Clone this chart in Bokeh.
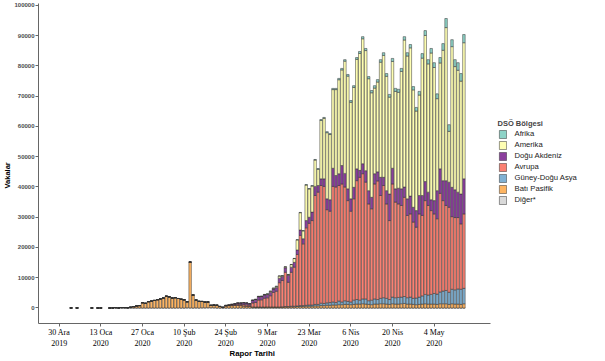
import pandas as pd
from bokeh.plotting import figure
from bokeh.models import (ColumnDataSource, Range1d, FixedTicker, Legend, LegendItem,
                          Title, BasicTickFormatter)
from bokeh.embed import file_html
from bokeh.resources import INLINE

# ---------------- data (daily cases by report date) ----------------
rapor_tarihi = (["2020-01-03", "2020-01-05", "2020-01-10", "2020-01-12", "2020-01-13"]
                + [d.strftime("%Y-%m-%d") for d in pd.date_range("2020-01-16", "2020-05-14")])

diger = ([0] * 5 + [0] * 21
         + [10, 10, 41, 3, 6, 65, 39, 0, 44, 0, 67, 70, 99, 88, 79, 13]
         + [0] * 83)

bati_pasifik = ([17, 15, 7, 1, 1]
                + [4, 17, 136, 20, 151, 140, 97, 260, 450, 680, 800]
                + [1750, 1550, 2100, 2300, 2500, 2750, 3000, 3300, 3900, 3700, 3300, 3400, 3100, 2900,
                   2700, 2000, 15150]
                + [4300, 2600, 2200, 2100, 1900, 1900, 800, 900, 900, 500, 200, 700, 800, 800, 900, 900,
                   800, 700, 600, 500]
                + [350, 300, 320, 280, 300, 330, 310, 300, 290, 300]
                + [300, 350, 350, 400, 400, 500, 500, 550, 600, 600,
                   600, 700, 700, 800, 800, 900, 900, 1000, 1000, 1100,
                   1100, 1200, 1200, 1100, 1200, 1300, 1300, 1400, 1300, 1200,
                   1100, 1300, 1300, 1400, 1400, 1300, 1200, 1400, 1300, 1300,
                   1400, 1500, 1300, 1300, 1200, 1100, 1200, 1300, 1400, 1300,
                   1300, 1300, 1200, 1400, 1400, 1400, 1200, 1400, 1300, 1300,
                   1200, 1400])

guney_dogu_asya = ([0] * 53
                   + [5, 10, 10, 20, 20, 30, 30, 40, 50, 60]
                   + [100, 150, 150, 200, 200, 200, 300, 250, 300, 400,
                      400, 500, 500, 800, 700, 800, 900, 1000, 800, 1200,
                      900, 1200, 1000, 900, 1400, 1500, 1300, 1600, 1700, 1200,
                      1500, 1700, 1500, 1800, 2000, 1900, 1600, 2200, 2100, 2200,
                      2200, 2300, 2100, 2300, 2000, 2200, 2400, 2700, 3100, 3000,
                      3200, 3500, 3400, 3900, 4200, 4400, 4000, 4800, 4700, 5000,
                      5000, 5100])

avrupa = ([0] * 33
          + [0, 0, 0, 0, 0, 0, 0, 0, 10, 20, 40, 60, 100, 200, 200, 350, 350, 450, 450, 400]
          + [1300, 1500, 2300, 2400, 2900, 3000, 3700, 4800, 5200, 8000]
          + [8700, 11300, 8000, 11200, 12900, 17000, 23200, 20400, 25600, 27000,
             27900, 36000, 37100, 38900, 38700, 30800, 30200, 38200, 38200, 38200,
             39000, 37600, 33300, 30000, 33500, 39300, 40600, 41400, 38600, 32000,
             30200, 38000, 39200, 34000, 37100, 31200, 26100, 37400, 31600, 30900,
             30300, 32800, 27200, 27500, 25200, 23400, 27500, 26600, 31000, 29600,
             27700, 26300, 24900, 32600, 29900, 28100, 28100, 24000, 23900, 23600,
             21600, 24600])

dogu_akdeniz = ([0] * 44
                + [100, 100, 200, 300, 400, 500, 600, 600, 500]
                + [900, 1000, 1100, 1100, 1100, 1100, 1200, 1100, 1200, 1500]
                + [1300, 1500, 2300, 1700, 1600, 1500, 1800, 1700, 2400, 2000,
                   2800, 3000, 2200, 2200, 2500, 3600, 3800, 6000, 3800, 3900,
                   6100, 4500, 3900, 4100, 3800, 3900, 2300, 3300, 3800, 4400,
                   3800, 3400, 3000, 6000, 2700, 4400, 8800, 5200, 4400, 5200,
                   5500, 3400, 5500, 5900, 4900, 5500, 6100, 6600, 6300, 4400,
                   3600, 4400, 9300, 8100, 6600, 8200, 8300, 9700, 9200, 8400,
                   9900, 11600])

amerika = ([0] * 44
           + [5, 10, 10, 15, 20, 25, 30, 40, 50]
           + [20, 50, 100, 80, 150, 200, 300, 300, 400, 700]
           + [300, 300, 250, 850, 1250, 3300, 5700, 2600, 11750, 9350,
              8600, 8700, 5350, 19300, 20000, 21850, 21550, 26000, 28400, 31050,
              31600, 37100, 37250, 31900, 33000, 36200, 38650, 41300, 39700, 37000,
              34550, 28300, 29700, 38050, 40300, 37800, 32000, 35300, 32200, 31700,
              38800, 48600, 47200, 49000, 38800, 32900, 33200, 45400, 48300, 42400,
              48500, 44000, 30400, 35000, 43100, 50600, 16800, 46500, 40700, 40300,
              37300, 45000])

afrika = ([0] * 53
          + [2, 5, 10, 10, 20, 20, 30, 30, 40, 50]
          + [20, 50, 50, 50, 50, 100, 100, 100, 150, 150,
             200, 200, 250, 300, 300, 350, 350, 400, 400, 450,
             500, 500, 550, 600, 600, 600, 650, 700, 700, 700,
             750, 800, 800, 850, 900, 900, 900, 1000, 1000, 1000,
             1000, 1100, 1100, 1100, 1100, 1200, 1200, 1500, 1600, 1400,
             1500, 1600, 1600, 1800, 2200, 3000, 2200, 2300, 2300, 2500,
             2500, 2700])

bolge_etiketleri = ["Diğer*", "Batı Pasifik", "Güney-Doğu Asya", "Avrupa", "Doğu Akdeniz", "Amerika", "Afrika"]
bolge_anahtarlari = ["diger", "bati_pasifik", "guney_dogu_asya", "avrupa", "dogu_akdeniz", "amerika", "afrika"]
bolge_renkleri = ["#D9D9D9", "#FDB462", "#80B1D3", "#FB8072", "#8C3F9E", "#FFFFB3", "#8DD3C7"]

tick_tarihleri = ["2019-12-30", "2020-01-13", "2020-01-27", "2020-02-10", "2020-02-24",
                  "2020-03-09", "2020-03-23", "2020-04-06", "2020-04-20", "2020-05-04"]
tick_etiketleri = ["30 Ara\n2019", "13 Oca\n2020", "27 Oca\n2020", "10 Şub\n2020", "24 Şub\n2020",
                   "9 Mar\n2020", "23 Mar\n2020", "6 Nis\n2020", "20 Nis\n2020", "4 May\n2020"]
y_tickleri = [0, 10000, 20000, 30000, 40000, 50000, 60000, 70000, 80000, 90000, 100000]

# ---------------- build ----------------
t0 = pd.Timestamp("2019-12-30")
gun = [(pd.Timestamp(d) - t0).days for d in rapor_tarihi]
tick_gun = [(pd.Timestamp(d) - t0).days for d in tick_tarihleri]

src = ColumnDataSource(dict(gun=gun, diger=diger, bati_pasifik=bati_pasifik,
                            guney_dogu_asya=guney_dogu_asya, avrupa=avrupa,
                            dogu_akdeniz=dogu_akdeniz, amerika=amerika, afrika=afrika))

W, H = 605, 361
LEFT, BOTTOM, TOP = 38, 38, 3
X0, X1 = -6.95, 144.8          # visible extent of the date axis (days from 30 Ara 2019)
PX_PER_DAY = 2.976
x_end = X0 + (W - LEFT) / PX_PER_DAY   # frame runs to the right edge; legend sits inside it

p = figure(width=W, height=H, output_backend="svg", toolbar_location=None,
           x_range=Range1d(X0, x_end), y_range=Range1d(-5124, 100661),
           min_border_left=LEFT, min_border_right=0, min_border_top=TOP, min_border_bottom=BOTTOM)
p.background_fill_color = "white"
p.border_fill_color = "white"
p.outline_line_color = None
p.xgrid.visible = False
p.ygrid.visible = False

renderers = p.vbar_stack(bolge_anahtarlari, x="gun", width=0.84, source=src,
                         fill_color=bolge_renkleri, line_color="#303030", line_width=0.5)
rmap = dict(zip(bolge_etiketleri, renderers))

axis_col = "#666666"
for ax in (p.xaxis[0], p.yaxis[0]):
    ax.axis_line_color = axis_col
    ax.axis_line_width = 1
    ax.major_tick_line_color = axis_col
    ax.major_tick_out = 3
    ax.major_tick_in = 0
    ax.minor_tick_line_color = None
    ax.axis_label_standoff = 0

p.xaxis.bounds = (X0, X1)
p.xaxis.ticker = FixedTicker(ticks=tick_gun)
p.xaxis.major_label_overrides = {g: lab for g, lab in zip(tick_gun, tick_etiketleri)}
p.xaxis.major_label_text_font = "Liberation Serif"
p.xaxis.major_label_text_font_size = "8px"
p.xaxis.major_label_text_color = "black"
p.xaxis.major_label_text_line_height = 1.25
p.xaxis.major_label_standoff = 1

p.yaxis.ticker = FixedTicker(ticks=y_tickleri)
p.yaxis.formatter = BasicTickFormatter(use_scientific=False)
p.yaxis.major_label_text_font = "Liberation Sans"
p.yaxis.major_label_text_font_size = "6px"
p.yaxis.major_label_text_font_style = "bold"
p.yaxis.major_label_text_color = "#4d4d4d"
p.yaxis.major_label_standoff = 1

p.add_layout(Title(text="Vakalar", align="left", offset=135, standoff=0,
                   text_font="Liberation Sans", text_font_size="7.5px",
                   text_font_style="bold", text_color="black"), "left")
p.add_layout(Title(text="Rapor Tarihi", align="left", vertical_align="top", offset=191, standoff=-4,
                   text_font="Liberation Sans", text_font_size="7.8px",
                   text_font_style="bold", text_color="black"), "below")

legend_sirasi = ["Afrika", "Amerika", "Doğu Akdeniz", "Avrupa", "Güney-Doğu Asya", "Batı Pasifik", "Diğer*"]
legend = Legend(items=[LegendItem(label=lab, renderers=[rmap[lab]]) for lab in legend_sirasi],
                location=(459.5, 118.5), title="DSÖ Bölgesi",
                title_text_font="Liberation Sans", title_text_font_size="7.5px",
                title_text_font_style="bold", title_standoff=1,
                label_text_font="Liberation Sans", label_text_font_size="7.7px",
                label_text_color="#1a1a1a",
                glyph_width=9, glyph_height=10, label_height=10, spacing=1,
                padding=0, margin=0, label_standoff=8,
                border_line_alpha=0, background_fill_alpha=0)
p.add_layout(legend)

open("out.html", "w").write(file_html(p, INLINE))
